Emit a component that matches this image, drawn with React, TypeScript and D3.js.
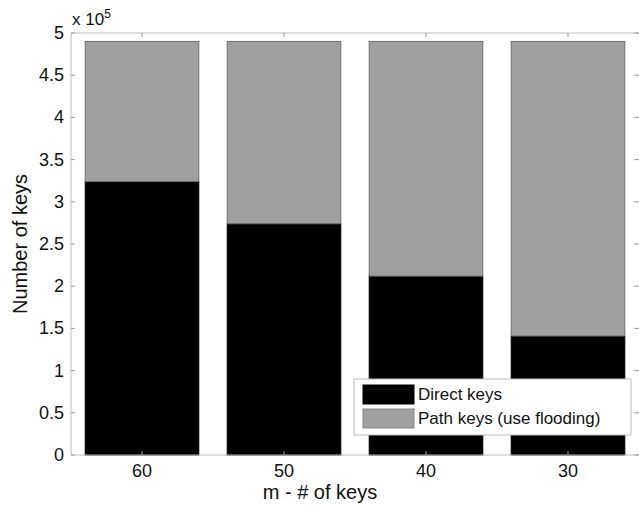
import { useEffect, useRef } from "react";
import * as d3 from "d3";

// data (values in units of 1e5)
const categories = ["60", "50", "40", "30"];
const directKeys = [3.24, 2.74, 2.12, 1.41];
const pathKeys = [1.66, 2.16, 2.78, 3.49];
const seriesNames = ["Direct keys", "Path keys (use flooding)"];
const seriesColors = ["#000000", "#a0a0a0"];
const yTicks = [0, 0.5, 1, 1.5, 2, 2.5, 3, 3.5, 4, 4.5, 5];

function App() {
  const svgRef = useRef<SVGSVGElement>(null);

  useEffect(() => {
    document.body.style.margin = "0";
    const WIDTH = 639;
    const HEIGHT = 507;
    const margin = { left: 71, right: 0, top: 33, bottom: 52 };
    const font = "Liberation Sans, Arial, sans-serif";

    const svg = d3.select(svgRef.current)
      .attr("width", WIDTH)
      .attr("height", HEIGHT)
      .style("display", "block")
      .style("background", "#fff");
    svg.selectAll("*").remove();

    const x = d3.scaleLinear().domain([0.5, categories.length + 0.5]).range([margin.left, WIDTH - margin.right]);
    const y = d3.scaleLinear().domain([0, 5]).range([HEIGHT - margin.bottom, margin.top]);
    const barW = x(1.4) - x(0.6);

    const rows = categories.map((c, i) => ({ c, i, direct: directKeys[i], path: pathKeys[i] }));
    const stack = d3.stack<any>().keys(["direct", "path"])(rows);

    stack.forEach((layer, li) => {
      svg.append("g").selectAll("rect")
        .data(layer)
        .join("rect")
        .attr("x", (d: any) => x(d.data.i + 1) - barW / 2)
        .attr("width", barW)
        .attr("y", (d) => y(d[1]))
        .attr("height", (d) => y(d[0]) - y(d[1]))
        .attr("fill", seriesColors[li])
        .attr("stroke", li === 0 ? "#000" : "#707070")
        .attr("stroke-width", 1);
    });

    // axes box
    const axisColor = "#bdbdbd";
    const g = svg.append("g");
    g.append("line").attr("x1", x.range()[0]).attr("x2", x.range()[1]).attr("y1", y(0)).attr("y2", y(0)).attr("stroke", axisColor);
    g.append("line").attr("x1", x.range()[0]).attr("x2", x.range()[1]).attr("y1", y(5)).attr("y2", y(5)).attr("stroke", axisColor);
    g.append("line").attr("x1", x.range()[0]).attr("x2", x.range()[0]).attr("y1", y(0)).attr("y2", y(5)).attr("stroke", axisColor);

    // y ticks
    yTicks.forEach((t) => {
      g.append("line").attr("x1", x.range()[0]).attr("x2", x.range()[0] + 4).attr("y1", y(t)).attr("y2", y(t)).attr("stroke", "#999");
      g.append("line").attr("x1", x.range()[1] - 5).attr("x2", x.range()[1]).attr("y1", y(t)).attr("y2", y(t)).attr("stroke", "#999");
      g.append("text")
        .attr("x", x.range()[0] - 7)
        .attr("y", y(t) + 6)
        .attr("text-anchor", "end")
        .attr("font-family", font)
        .attr("font-size", 18)
        .attr("fill", "#111")
        .text(String(t));
    });

    // x ticks
    categories.forEach((c, i) => {
      g.append("line").attr("x1", x(i + 1)).attr("x2", x(i + 1)).attr("y1", y(0)).attr("y2", y(0) - 4).attr("stroke", "#999");
      g.append("line").attr("x1", x(i + 1)).attr("x2", x(i + 1)).attr("y1", y(5)).attr("y2", y(5) + 4).attr("stroke", "#999");
      g.append("text")
        .attr("x", x(i + 1))
        .attr("y", y(0) + 22)
        .attr("text-anchor", "middle")
        .attr("font-family", font)
        .attr("font-size", 18)
        .attr("fill", "#111")
        .text(c);
    });

    // exponent label
    const exp = g.append("text")
      .attr("x", x.range()[0] + 1)
      .attr("y", y(5) - 8)
      .attr("font-family", font)
      .attr("font-size", 17)
      .attr("fill", "#111");
    exp.append("tspan").text("x 10");
    exp.append("tspan").attr("dy", -7).attr("font-size", 12).text("5");

    // axis labels
    g.append("text")
      .attr("x", 320)
      .attr("y", 499)
      .attr("text-anchor", "middle")
      .attr("font-family", font)
      .attr("font-size", 20)
      .attr("fill", "#111")
      .text("m - # of keys");
    g.append("text")
      .attr("transform", `translate(27, ${(y(0) + y(5)) / 2}) rotate(-90)`)
      .attr("text-anchor", "middle")
      .attr("font-family", font)
      .attr("font-size", 20)
      .attr("fill", "#111")
      .text("Number of keys");

    // legend
    const lg = svg.append("g").attr("transform", "translate(354, 379)");
    lg.append("rect").attr("width", 277).attr("height", 56).attr("fill", "#fff").attr("stroke", "#bbb");
    seriesNames.forEach((name, i) => {
      lg.append("rect")
        .attr("x", 9)
        .attr("y", 6 + i * 24)
        .attr("width", 51)
        .attr("height", 19)
        .attr("fill", seriesColors[i])
        .attr("stroke", i === 0 ? "#000" : "#888");
      lg.append("text")
        .attr("x", 64)
        .attr("y", 21 + i * 24)
        .attr("font-family", font)
        .attr("font-size", 17)
        .attr("fill", "#111")
        .text(name);
    });
  }, []);

  return <svg ref={svgRef} />;
}

export default App;
